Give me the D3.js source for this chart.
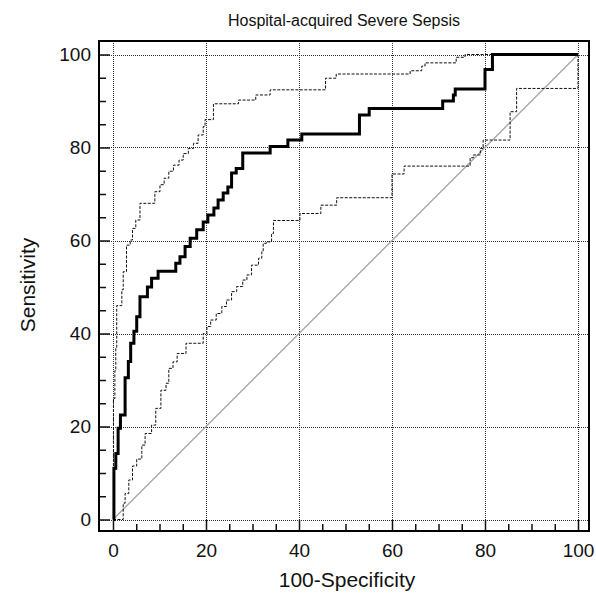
<!DOCTYPE html>
<html><head><meta charset="utf-8">
<script src="https://cdn.jsdelivr.net/npm/d3@7/dist/d3.min.js"></script>
<style>
html,body{margin:0;padding:0;background:#fff;}
svg text{font-family:"Liberation Sans",Arial,sans-serif;fill:#111;}
</style></head>
<body><svg id="c" width="596" height="594"></svg>
<script>
const title = "Hospital-acquired Severe Sepsis";
const xTitle = "100-Specificity";
const yTitle = "Sensitivity";
const majorTicks = [0, 20, 40, 60, 80, 100];
const minorTicks = [5,10,15,25,30,35,45,50,55,65,70,75,85,90,95];

// ROC curve corner points: [100-Specificity, Sensitivity]
const rocX = [0,0.2,0.6,1.1,1.6,2.6,3.3,3.8,4.5,5.1,5.8,7.4,8.3,9.7,13.5,14.4,15.5,16.6,18,19.4,20.4,21.7,22.6,23.7,24.7,25.5,26.5,27.9,33.8,37.6,40.6,53,55.1,70.9,73.2,73.6,80,81.6,100];
const rocY = [0,11,14.2,19.6,22.5,30.5,34,37.9,40.5,43.6,47.9,50,51.9,53.4,55.1,56.5,58.7,60.5,62.3,64,65.5,67,68.7,70.2,71.5,74.5,75.5,78.8,80.2,81.6,82.9,87,88.4,90,91.3,92.6,96.8,100,100];

const upX = [0,0.1,0.4,0.6,0.8,1.9,2.2,2.9,3.7,4.2,4.9,5.8,9,10.1,11,12,13,14.2,15.1,16.2,17.3,18.3,19.4,19.8,21.6,27,30.7,33.8,45.7,48,63.9,66.4,67.1,73.8,75.7,100];
const upY = [0,26,32,37,46,49.4,53.3,59,60.1,62.6,64.4,68,70.5,72,73.4,74.9,76.2,77.3,78.7,79.8,80.9,82.7,84.5,86,89.4,90.2,91.3,92.4,94.9,95.8,96.5,97.5,98.2,99.4,100,100];

const loX = [0,2.2,2.6,3.4,4.2,5.1,6.2,6.9,8.3,9.2,10.3,11.4,12,12.9,13.8,15.7,19.4,20.2,21,22.2,23.4,24.4,25.5,26.6,27.9,28.8,29.8,31.3,32,32.3,33,34.1,34.5,40.2,44.7,48.1,60,62.6,76.8,77.5,79,79.6,85.4,86.8,100];
const loY = [0,3.5,5.6,8.5,11.5,13,16,18.5,20.3,23.9,27.8,29.3,32.5,33.9,35.7,37.9,40,41.5,42.9,44.3,45.8,47.2,49,50.1,51.5,52.6,54.7,56.2,57.6,59.4,59.7,61.5,64.3,65.8,67.6,69.2,74.3,76,77.8,78.4,79.8,81.6,87.7,92.7,100];

const diagX = [0,100];
const diagY = [0,100];

const svg = d3.select("#c");
const x = d3.scaleLinear().domain([0,100]).range([113,578]);
const y = d3.scaleLinear().domain([0,100]).range([519.5,54.5]);
const frame = {l:99, t:41, r:589, b:531};

// grid
const g = svg.append("g");
g.selectAll("line.gx").data(majorTicks).join("line")
  .attr("x1",d=>Math.round(x(d))+0.5).attr("x2",d=>Math.round(x(d))+0.5).attr("y1",frame.t).attr("y2",frame.b)
  .attr("stroke","#333").attr("stroke-width",1).attr("stroke-dasharray","1,1");
g.selectAll("line.gy").data(majorTicks).join("line")
  .attr("y1",d=>Math.round(y(d))+0.5).attr("y2",d=>Math.round(y(d))+0.5).attr("x1",frame.l).attr("x2",frame.r)
  .attr("stroke","#333").attr("stroke-width",1).attr("stroke-dasharray","1,1");

// diagonal
svg.append("path").datum(diagX.map((d,i)=>[d,diagY[i]]))
  .attr("d", d3.line().x(d=>x(d[0])).y(d=>y(d[1])))
  .attr("fill","none").attr("stroke","#a8a8a8").attr("stroke-width",1.4);

const step = d3.line().x(d=>x(d[0])).y(d=>y(d[1])).curve(d3.curveStepAfter);
svg.append("path").datum(upX.map((d,i)=>[d,upY[i]])).attr("d",step)
  .attr("fill","none").attr("stroke","#111").attr("stroke-width",1).attr("stroke-dasharray","3,1.5");
svg.append("path").datum(loX.map((d,i)=>[d,loY[i]])).attr("d",step)
  .attr("fill","none").attr("stroke","#111").attr("stroke-width",1).attr("stroke-dasharray","3,1.5");
svg.append("path").datum(rocX.map((d,i)=>[d,rocY[i]])).attr("d",step)
  .attr("fill","none").attr("stroke","#000").attr("stroke-width",3);

// axes (ticks inward)
svg.append("g").attr("transform",`translate(0,${frame.b})`)
  .call(d3.axisBottom(x).tickValues(majorTicks).tickSize(-11).tickPadding(13).tickFormat(d3.format("d")));
svg.append("g").attr("transform",`translate(0,${frame.b})`)
  .call(d3.axisBottom(x).tickValues(minorTicks).tickSize(-7).tickFormat(""));
svg.append("g").attr("transform",`translate(${frame.l},0)`)
  .call(d3.axisLeft(y).tickValues(majorTicks).tickSize(-11).tickPadding(8).tickFormat(d3.format("d")));
svg.append("g").attr("transform",`translate(${frame.l},0)`)
  .call(d3.axisLeft(y).tickValues(minorTicks).tickSize(-7).tickFormat(""));
svg.selectAll(".domain").remove();
svg.selectAll(".tick line").attr("stroke","#111").attr("stroke-width",1.5);
svg.selectAll(".tick text").attr("font-size",19).attr("font-family","Liberation Sans, Arial, sans-serif").attr("fill","#111");

// frame
svg.append("rect").attr("x",frame.l).attr("y",frame.t).attr("width",frame.r-frame.l).attr("height",frame.b-frame.t)
  .attr("fill","none").attr("stroke","#000").attr("stroke-width",2);

// titles
svg.append("text").attr("x",344).attr("y",26).attr("text-anchor","middle").attr("font-size",16).text(title);
svg.append("text").attr("x",347).attr("y",587).attr("text-anchor","middle").attr("font-size",21).text(xTitle);
svg.append("text").attr("transform","translate(35,285) rotate(-90)").attr("text-anchor","middle").attr("font-size",21).text(yTitle);
</script></body></html>
